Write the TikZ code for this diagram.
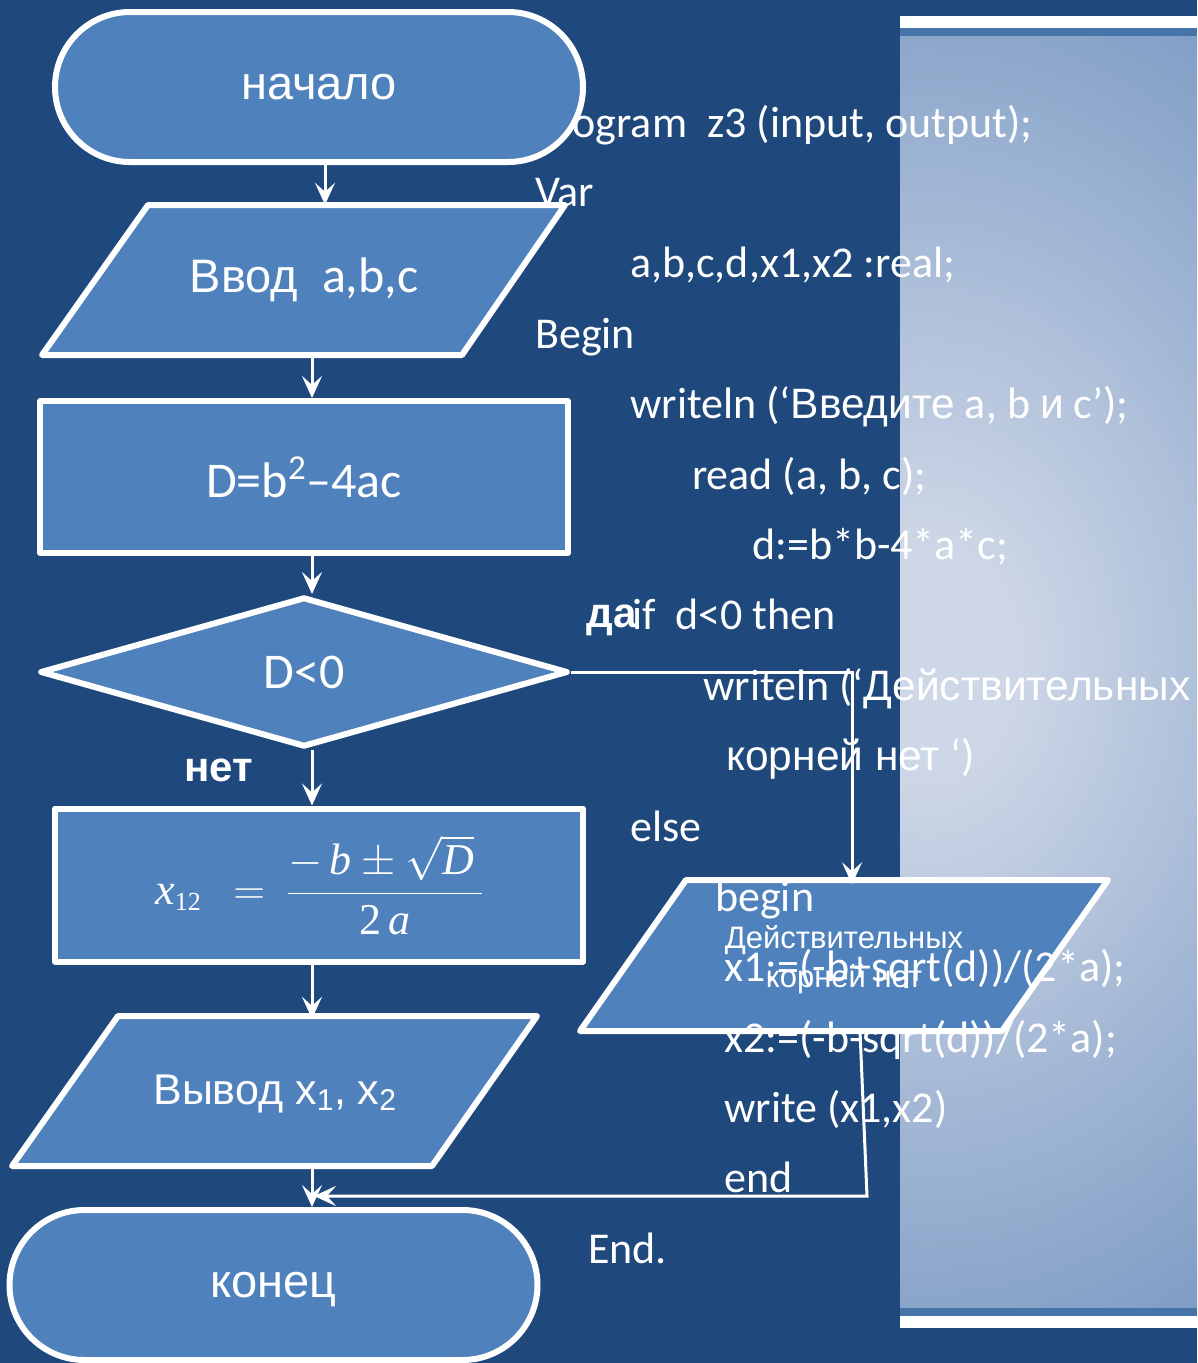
\RequirePackage{fix-cm}
\documentclass[tikz,border=0pt]{standalone}
\usepackage{fontspec}
\setmainfont{Carlito}
\newfontfamily\arialf{Liberation Sans}
\newfontfamily\seriff{Liberation Serif}
\newcommand\cyr[1]{{\arialf\fontsize{42.5}{50}\selectfont #1}}
\newcommand\mv[1]{\mbox{\seriff\itshape #1}}
\usetikzlibrary{shapes.misc,shapes.geometric,arrows.meta}
\definecolor{bg}{RGB}{31,72,124}
\definecolor{boxf}{RGB}{79,129,189}
\definecolor{panD}{RGB}{124,155,196}
\definecolor{panL}{RGB}{206,215,231}
\definecolor{strip}{RGB}{70,116,168}
\pgfdeclareradialshading{panshade}{\pgfpoint{0bp}{0bp}}{color(0bp)=(panL); color(3bp)=(panL); color(21bp)=(panD); color(50bp)=(panD)}
\begin{document}
\begin{tikzpicture}[x=1pt,y=-1pt,
  shp/.style={draw=white, line width=6pt, fill=boxf, line join=round, text=white, inner sep=0pt},
  term/.style={shp, rounded rectangle, minimum width=528pt, minimum height=150pt, text height=25pt, text depth=0pt, font=\arialf\fontsize{47}{52}\selectfont},
  proc/.style={shp, rectangle, minimum width=528pt, minimum height=152pt},
  dec/.style={shp, diamond, minimum width=528pt, minimum height=150pt},
  para/.style={draw=white, line width=6pt, fill=boxf, line join=round},
  iolbl/.style={text=white, minimum height=150pt, inner sep=0pt},
  arr/.style={draw=white, line width=3pt, -{Stealth[length=22pt,width=20pt,inset=9pt]}},
  code/.style={anchor=base west, text=white, inner sep=0pt, font=\fontsize{44}{50}\selectfont},
  lbl/.style={text=white, inner sep=0pt, font=\arialf\bfseries\fontsize{42}{46}\selectfont}]
\useasboundingbox (0,0) rectangle (1197,1363);
\fill[bg] (0,0) rectangle (1197,1363);
% right panel
\begin{scope}
\clip (900,36) rectangle (1197,1308);
\shade[shading=panshade] (225,-240) rectangle (1625,1560);
\end{scope}
\fill[white] (900,16) rectangle (1197,28);
\fill[strip] (900,28) rectangle (1197,36);
\fill[strip] (900,1308) rectangle (1197,1316);
\fill[white] (900,1316) rectangle (1197,1328);
% right output block
\draw[para] (686,880) -- (1108,880) -- (1002,1031) -- (580,1031) -- cycle;
\node[iolbl, minimum height=151pt, align=center, font=\arialf\fontsize{31}{39}\selectfont] (outR) at (844,960) {Действительных\\корней нет};
% code text
\node[code] (c1) at (535,137) {Program~ z3 (input, output);};
\node[code] (c2) at (535,206) {Var};
\node[code] (c3) at (630,277) {a,b,c,d,x1,x2 :real;};
\node[code] (c4) at (535,348) {Begin};
\node[code] (c5) at (630,418) {writeln (‘\cyr{Введите} a, b \cyr{и} c’);};
\node[code] (c6) at (692,489) {read (a, b, c);};
\node[code] (c7) at (752,559) {d:=b*b-4*a*c;};
\node[code] (c8) at (632,629) {if~ d<0 then};
\node[code] (c9) at (703,700) {writeln (‘\cyr{Действительных}};
\node[code] (c10) at (726,770) {\cyr{корней нет} ‘)};
\node[code] (c11) at (630,841) {else};
\node[code] (c12) at (715,911) {begin};
\node[code] (c13) at (724,981) {x1:=(-b+sqrt(d))/(2*a);};
\node[code] (c14) at (724,1052) {x2:=(-b-sqrt(d))/(2*a);};
\node[code] (c15) at (724,1122) {write (x1,x2)};
\node[code] (c16) at (724,1192) {end};
\node[code] (c17) at (588,1263) {End.};
% flowchart
\node[term] (start) at (319,87) {начало};
\draw[para] (148,205) -- (565,205) -- (462,355) -- (42,355) -- cycle;
\node[iolbl] (inp) at (304,280) {{\arialf\fontsize{47}{52}\selectfont Ввод}\hspace{24pt}{\fontsize{50}{56}\selectfont a,b,c}};
\node[proc] (calc) at (304,477) {\fontsize{50}{56}\selectfont D=b\textsuperscript{2}–4ac};
\node[dec] (cond) at (304,672) {\fontsize{50}{56}\selectfont D<0};
\node[proc, minimum height=153pt] (form) at (319,885) {\fontsize{44}{50}\selectfont $\mv{x}_{\mbox{\seriff\fontsize{26}{28}\selectfont 12}}\ \ =\ \displaystyle\frac{-\,\mv{b}\pm\sqrt{\mv{D}}\,}{\mbox{\seriff 2}\,\mv{a}}$};
\draw[para] (118,1016) -- (537,1016) -- (432,1166) -- (12,1166) -- cycle;
\node[iolbl] (outp) at (275,1094) {\arialf\fontsize{43}{50}\selectfont Вывод x\textsubscript{1}, x\textsubscript{2}};
\node[term] (fin) at (273.5,1285) {конец};
% connectors
\coordinate (spA) at (325,0);
\coordinate (sp) at (312,0);
\coordinate (dn) at (852,0);
\coordinate (rb) at (860,1031);
\coordinate (rj) at (867,1196);
\draw[arr] (spA |- start.south) -- (spA |- inp.north);
\draw[arr] (sp |- inp.south) -- (sp |- calc.north);
\draw[arr] (sp |- calc.south) -- (sp |- cond.north);
\draw[arr] (sp |- cond.south) -- (sp |- form.north);
\draw[arr] (sp |- form.south) -- (sp |- outp.north);
\draw[arr] (sp |- outp.south) -- (sp |- fin.north);
\draw[arr] (cond.east) -- (cond.east -| dn) -- (dn |- outR.north);
\draw[arr, shorten >=2pt] (rb) -- (rj) -- (rj -| sp);
% labels
\node[lbl] (yes) at (612,620) {да};
\node[lbl] (no) at (219,770) {нет};
\end{tikzpicture}
\end{document}
